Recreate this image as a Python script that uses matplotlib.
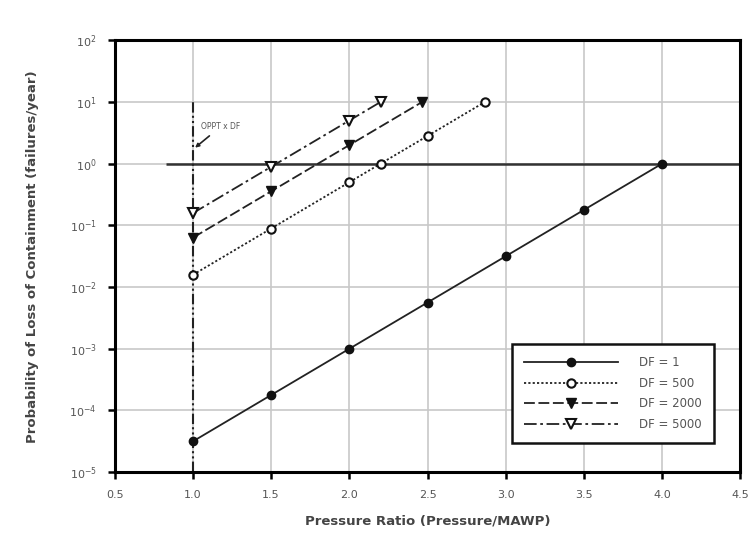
import matplotlib.pyplot as plt
from matplotlib.ticker import FixedLocator, NullLocator

# data
x_df1 = [1.0, 1.5, 2.0, 2.5, 3.0, 3.5, 4.0]
y_df1 = [3.16e-5, 1.78e-4, 1.0e-3, 5.62e-3, 3.16e-2, 0.178, 1.0]

x_df500 = [1.0, 1.5, 2.0, 2.2, 2.5, 2.867]
y_df500 = [0.0158, 0.0889, 0.5, 1.0, 2.81, 10.0]

x_df2000 = [1.0, 1.5, 2.0, 2.466]
y_df2000 = [0.0632, 0.356, 2.0, 10.0]

x_df5000 = [1.0, 1.5, 2.0, 2.2]
y_df5000 = [0.158, 0.889, 5.0, 10.0]

x_ticks = [0.5, 1.0, 1.5, 2.0, 2.5, 3.0, 3.5, 4.0, 4.5]
y_exps = [-5, -4, -3, -2, -1, 0, 1, 2]

fig = plt.figure(figsize=(7.5, 5.44), dpi=100)
ax = fig.add_axes([0.153, 0.132, 0.834, 0.794])

ax.set_yscale('log')
ax.set_xlim(0.5, 4.5)
ax.set_ylim(1e-5, 1e2)

ax.xaxis.set_major_locator(FixedLocator(x_ticks))
ax.yaxis.set_major_locator(FixedLocator([10.0 ** e for e in y_exps]))
ax.yaxis.set_minor_locator(NullLocator())
ax.set_xticklabels(['%.1f' % v for v in x_ticks])
ax.set_yticklabels(['$10^{%d}$' % e for e in y_exps])

ax.grid(True, color='#c8c8c8', lw=1.2, zorder=0)
ax.set_axisbelow(True)

for s in ax.spines.values():
    s.set_linewidth(2.2)
ax.tick_params(direction='out', length=5, width=1.8, labelsize=8,
               labelcolor='#555555', pad=8)

# horizontal reference line at 1 failure/year
ax.hlines(1.0, 0.83, 4.5, colors='#333333', lw=1.8, zorder=2)

# vertical line at pressure ratio 1.0
ax.vlines(1.0, 1e-5, 10.0, colors='#222222', lw=1.5,
          linestyles=(0, (5, 1.5, 1, 1.5, 1, 1.5)), zorder=2)
ax.annotate('OPPT x DF', xy=(1.0, 1.7), xytext=(1.05, 3.6),
            fontsize=5.5, color='#555555',
            arrowprops=dict(arrowstyle='-|>', color='#222222', lw=1.2))

ax.plot(x_df1, y_df1, color='#222222', lw=1.3, ls='-', marker='o',
        ms=6, mfc='#111111', mec='#111111', label='DF = 1', zorder=3)
ax.plot(x_df500, y_df500, color='#222222', lw=1.3, ls=(0, (1.2, 1.2)),
        marker='o', ms=6, mfc='white', mec='#111111', mew=1.5,
        label='DF = 500', zorder=3)
ax.plot(x_df2000, y_df2000, color='#222222', lw=1.3, ls=(0, (6, 2)),
        marker='v', ms=6.5, mfc='#111111', mec='#111111',
        label='DF = 2000', zorder=3)
ax.plot(x_df5000, y_df5000, color='#222222', lw=1.3,
        ls=(0, (7, 2, 1.5, 2)), marker='v', ms=6.5, mfc='white',
        mec='#111111', mew=1.5, label='DF = 5000', zorder=3)

leg = ax.legend(loc='lower right', bbox_to_anchor=(0.958, 0.068),
                fontsize=8.5, fancybox=False, framealpha=1,
                edgecolor='#111111', handlelength=8, borderpad=1.0,
                labelspacing=0.65, handletextpad=1.8, labelcolor='#555555',
                borderaxespad=0)
leg.get_frame().set_linewidth(1.8)

ax.set_xlabel('Pressure Ratio (Pressure/MAWP)', fontsize=9.5,
              fontweight='bold', color='#444444', labelpad=10)
ax.set_ylabel('Probability of Loss of Containment (failures/year)',
              fontsize=9.5, fontweight='bold', color='#444444', labelpad=22)

fig.savefig('out.png', dpi=100)
